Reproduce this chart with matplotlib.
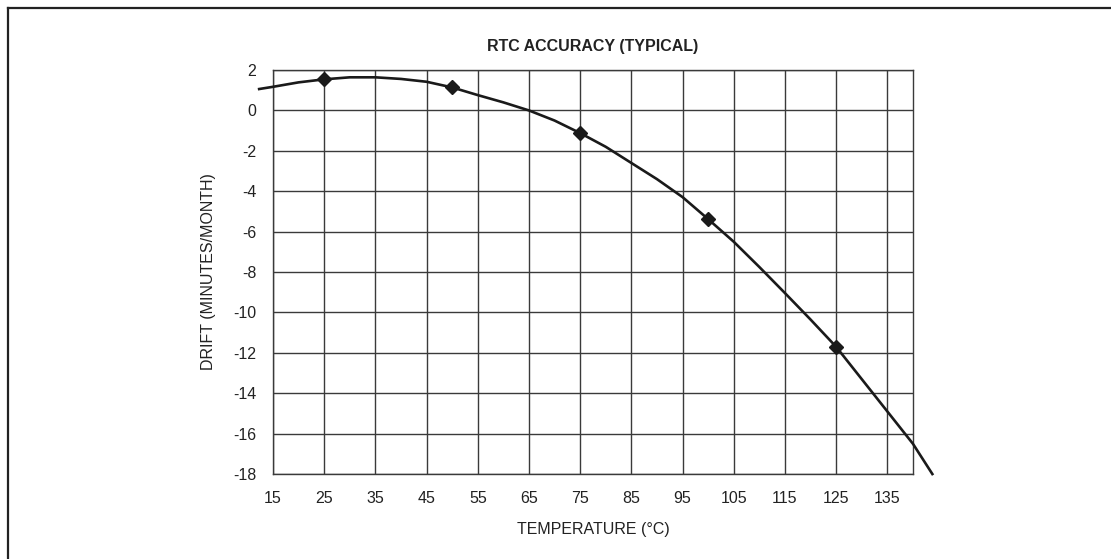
import matplotlib
matplotlib.use("Agg")
import matplotlib.pyplot as plt
from matplotlib.lines import Line2D

plt.rcParams["font.family"] = ["Liberation Sans Narrow", "Liberation Sans", "DejaVu Sans"]
plt.rcParams["axes.unicode_minus"] = False

# curve
temps = [12.3, 15, 20, 25, 30, 35, 40, 45, 50, 55, 60, 65, 70, 75, 80, 85, 90,
         95, 100, 105, 110, 115, 120, 125, 130, 135, 140, 143.8]
drift = [1.06, 1.17, 1.39, 1.54, 1.64, 1.64, 1.56, 1.42, 1.14, 0.76, 0.4, 0.0,
         -0.5, -1.12, -1.8, -2.6, -3.4, -4.29, -5.38, -6.5, -7.75, -9.04,
         -10.35, -11.7, -13.3, -14.9, -16.5, -18.0]

# measured points (diamonds)
mark_temps = [25, 50, 75, 100, 125]
mark_drift = [1.54, 1.14, -1.12, -5.38, -11.7]

xticks = list(range(15, 140, 10))
yticks = list(range(-18, 3, 2))

fig = plt.figure(figsize=(11.11, 5.59), dpi=100)
ax = fig.add_axes([0.2457, 0.152, 0.576, 0.7227])

ax.plot(temps, drift, color="#1a1a1a", lw=1.9, clip_on=False, zorder=3)
ax.plot(mark_temps, mark_drift, ls="none", marker="D", ms=7.5,
        color="#1a1a1a", clip_on=False, zorder=4)

ax.set_xlim(15, 140)
ax.set_ylim(-18, 2)
ax.set_xticks(xticks)
ax.set_yticks(yticks)
ax.grid(True, color="#3a3a3a", lw=1.0)
ax.set_axisbelow(True)
ax.tick_params(length=0, labelsize=11.5, colors="#222222")
ax.tick_params(axis="x", pad=12)
ax.tick_params(axis="y", pad=12)
for s in ax.spines.values():
    s.set_color("#3a3a3a")
    s.set_linewidth(1.0)

ax.set_title("RTC ACCURACY (TYPICAL)", fontsize=11.5, fontweight="bold",
             color="#222222", pad=14)
ax.set_xlabel("TEMPERATURE (°C)", fontsize=11.5, color="#222222", labelpad=12)
ax.set_ylabel("DRIFT (MINUTES/MONTH)", fontsize=11.5, color="#222222", labelpad=12)

# frame lines top and left
fig.add_artist(Line2D([8 / 1111, 1], [1 - 8 / 559, 1 - 8 / 559],
                      transform=fig.transFigure, color="#222222", lw=1.6))
fig.add_artist(Line2D([8 / 1111, 8 / 1111], [0, 1 - 8 / 559],
                      transform=fig.transFigure, color="#222222", lw=1.6))

fig.savefig("out.png", dpi=100)
